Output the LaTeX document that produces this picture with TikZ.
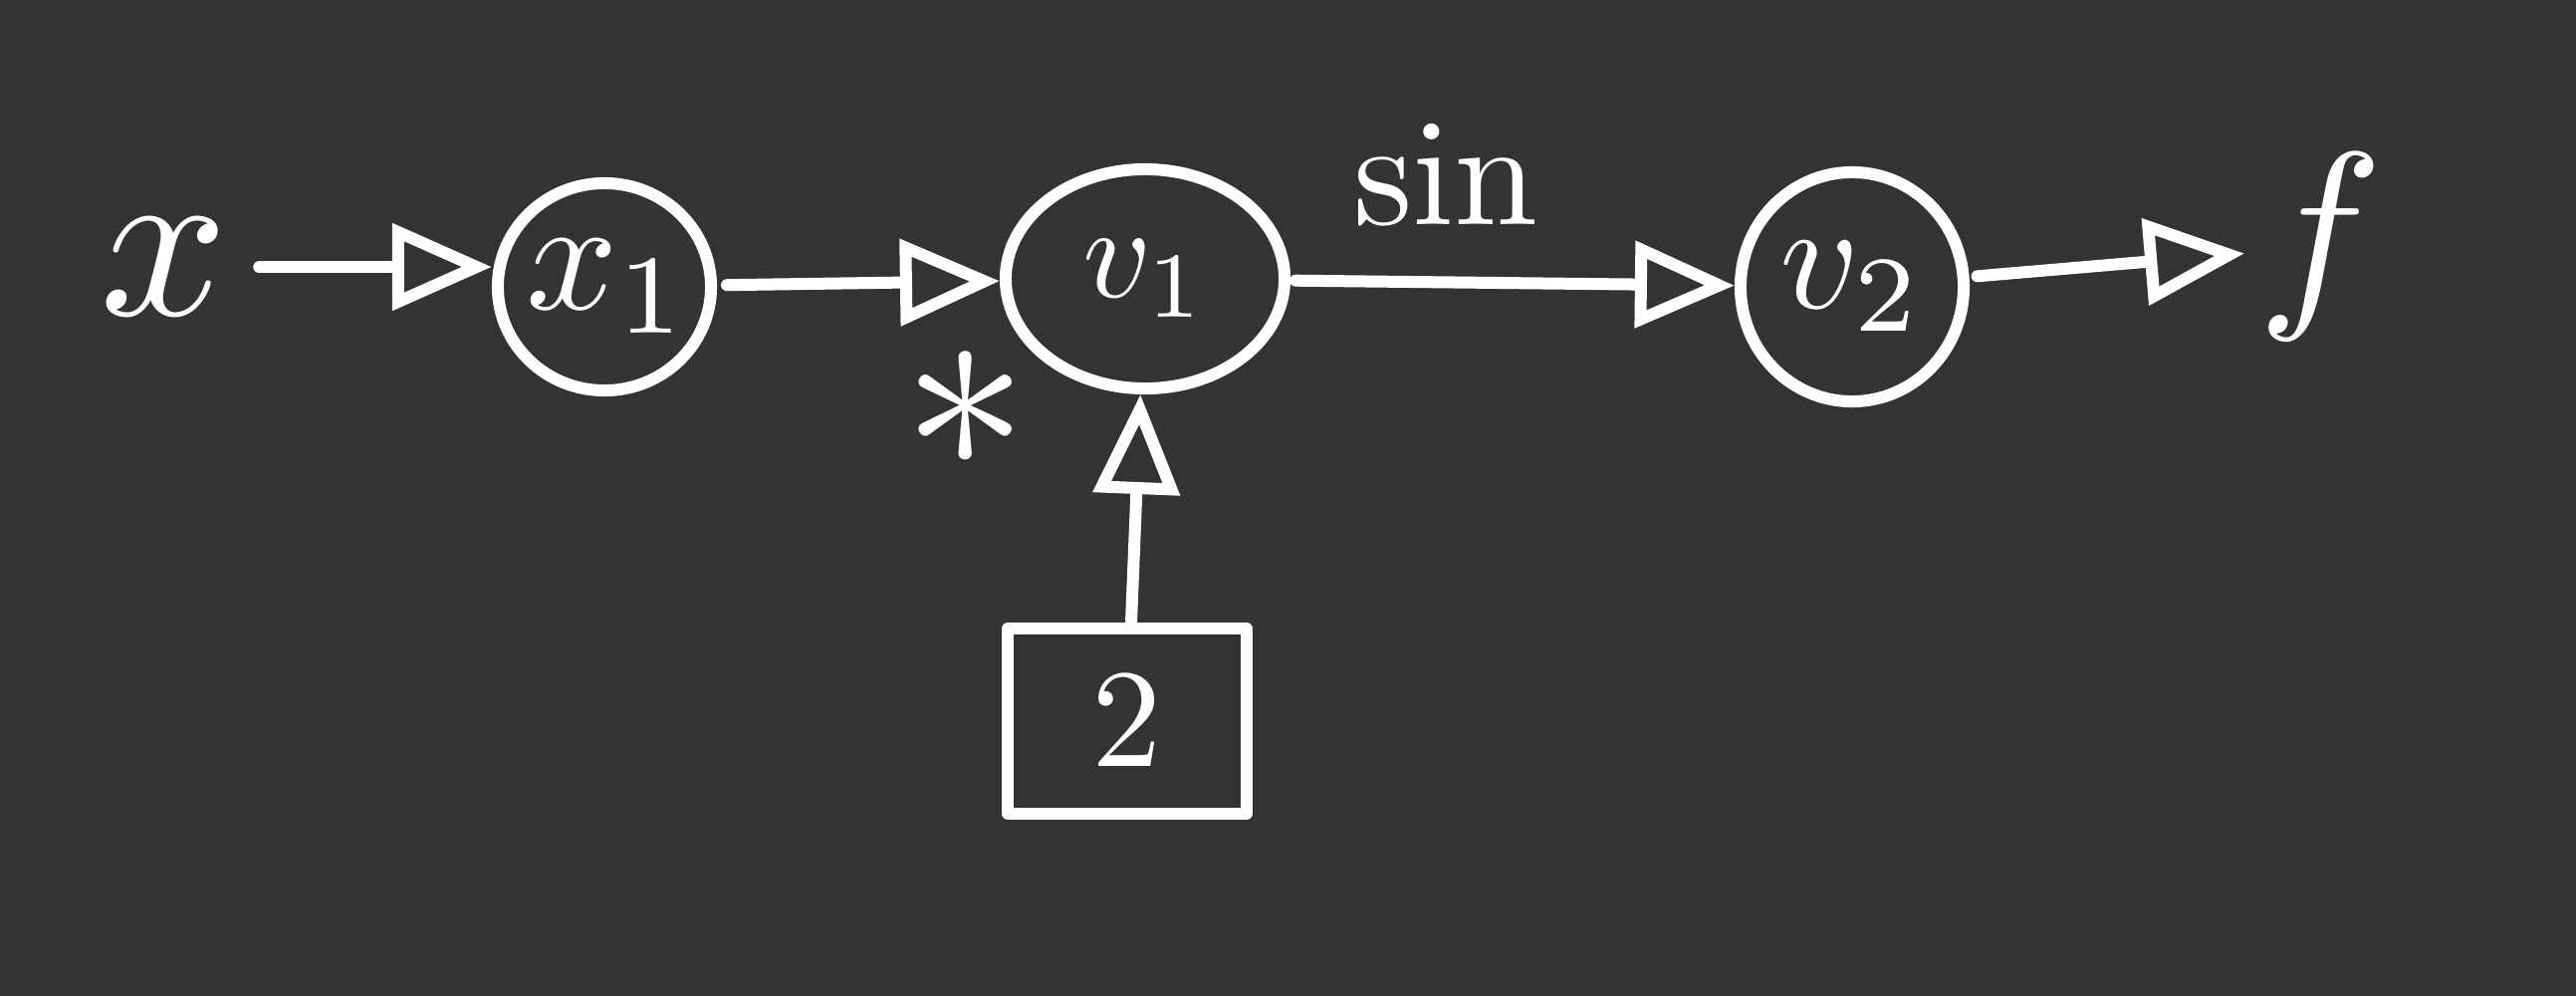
\documentclass[tikz,border=0pt]{standalone}
\usepackage{graphicx}
\usetikzlibrary{arrows.meta,shapes.geometric}
\definecolor{bg}{HTML}{333333}
\begin{document}
\begin{tikzpicture}[x=0.01cm,y=-0.01cm,line width=0.12cm,
  ink/.style={draw=white,line width=0.12cm,line cap=round,line join=round},
  txt/.style={text=white,inner sep=0.1cm},
  vnode/.style={ink,text=white,ellipse,inner sep=-0.3cm},
  tip/.style={ink,-{Triangle[open,length=1.0cm,width=0.85cm,line width=0.12cm]}}]
\fill[bg] (0,0) rectangle (2587,1000);
\useasboundingbox (0,0) rectangle (2587,1000);
% nodes
\node[txt] (x) at (165,268) {\scalebox{6.4}{$x$}};
\node[vnode,minimum width=2.14cm,minimum height=2.08cm] (x1) at (607,288) {\hspace{0.08cm}\scalebox{4.6}{$x_1$}};
\node[vnode,minimum width=2.8cm,minimum height=2.2cm] (v1) at (1150,280) {\scalebox{3.8}{$v_1$}};
\node[vnode,minimum width=2.24cm,minimum height=2.3cm] (v2) at (1860,288) {\scalebox{4.4}{$v_2$}};
\node[txt,inner sep=0.02cm] (f) at (2330,248) {\scalebox{6}{$f$}};
\node[ink,text=white,rectangle,minimum width=2.4cm,minimum height=1.85cm] (sq) at (1132,724) {\scalebox{4}{$2$}};
% connectors
\draw[tip,shorten <=0.15cm] (x) -- (x1.west |- x);
\draw[tip,shorten <=0.1cm] (x1) -- (v1);
\draw[tip,shorten <=0.05cm] (v1) -- node[txt,pos=0.35,above=0.42cm] (sinlbl) {\scalebox{4.3}{$\sin$}} (v2);
\draw[tip,shorten <=0.08cm,shorten >=0.05cm] (v2) -- (f);
\draw[tip,shorten <=0.02cm] (sq) -- node[txt,pos=0.93,left=0.95cm] (star) {\scalebox{7.2}{$\ast$}} (v1);
\end{tikzpicture}
\end{document}
